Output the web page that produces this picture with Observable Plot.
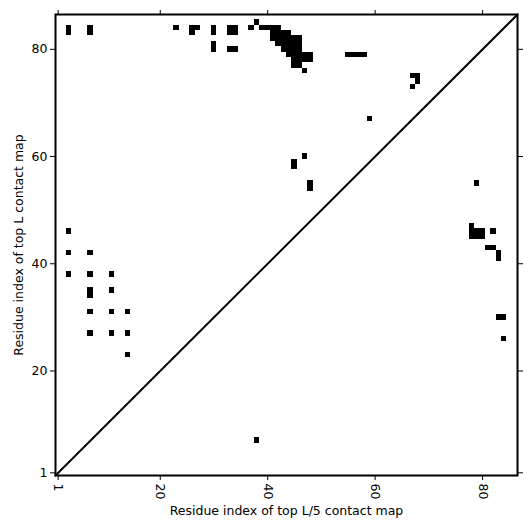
<!DOCTYPE html>
<html>
<head>
<meta charset="utf-8">
<script src="https://cdn.jsdelivr.net/npm/d3@7"></script>
<script src="https://cdn.jsdelivr.net/npm/@observablehq/plot@0.6"></script>
<style>
  html, body { margin: 0; padding: 0; background: white; }
</style>
</head>
<body>
<div id="chart"></div>
<script>
const L = 86;
const tickValues = [1, 20, 40, 60, 80];

// Upper-left triangle: top L contacts (residue i, residue j)
const topL_i = [3,3,7,7,23,26,27,26,30,30,30,30,33,34,33,34,33,34,37,38,
  39,40,41,42, 41,42,43,44, 41,42,43,44,45,46, 42,43,44,45,46, 43,44,45,46,
  44,45,46,47,48, 45,46,47,48, 45,46, 47,
  55,56,57,58, 67,68,68,67, 59, 47,45,45,48,48,
  3,3,7,3,7,11,7,7,11,7,11,14,7,11,14,14];
const topL_j = [83,84,83,84,84,84,84,83,84,83,81,80,83,83,84,84,80,80,84,85,
  84,84,84,84, 83,83,83,83, 82,82,82,82,82,82, 81,81,81,81,81, 80,80,80,80,
  79,79,79,79,79, 78,78,78,78, 77,77, 76,
  79,79,79,79, 75,75,74,73, 67, 60,59,58,55,54,
  46,42,42,38,38,38,35,34,35,31,31,31,27,27,27,23];

// Lower-right triangle: top L/5 contacts
const topL5_i = [79,78,78,79,80,78,79,80,82,81,82,83,83,83,84,84,38];
const topL5_j = [55,47,46,46,46,45,45,45,46,43,43,42,41,30,30,26,7];

const cells = [
  ...topL_i.map((v, k) => ({i: v, j: topL_j[k]})),
  ...topL5_i.map((v, k) => ({i: v, j: topL5_j[k]}))
];
const diag = [0.5, L + 0.5];

const chart = Plot.plot({
  width: 531,
  height: 531,
  marginLeft: 55,
  marginRight: 14,
  marginTop: 14,
  marginBottom: 56,
  style: {fontFamily: "DejaVu Sans", fontSize: "12.5px", color: "black", background: "white"},
  x: {domain: [0.5, L + 0.5]},
  y: {domain: [0.5, L + 0.5]},
  marks: [
    Plot.rect(cells, {x1: d => d.i - 0.5, x2: d => d.i + 0.5, y1: d => d.j - 0.5, y2: d => d.j + 0.5, fill: "black", shapeRendering: "crispEdges"}),
    Plot.line(diag, {x: d => d, y: d => d, stroke: "black", strokeWidth: 2}),
    Plot.frame({stroke: "black", strokeWidth: 2}),
    Plot.axisX({ticks: tickValues, tickSize: 5, tickPadding: 3, tickRotate: 90, fontSize: 12.5,
      label: "Residue index of top L/5 contact map", labelArrow: false, labelAnchor: "center", labelOffset: 39}),
    Plot.axisY({ticks: tickValues, tickSize: 5, tickPadding: 3, fontSize: 12.5,
      label: "Residue index of top L contact map", labelArrow: false, labelAnchor: "center", labelOffset: 41}),
    Plot.axisX({anchor: "top", ticks: tickValues, tickSize: 5, tickFormat: () => "", label: null}),
    Plot.axisY({anchor: "right", ticks: tickValues, tickSize: 5, tickFormat: () => "", label: null})
  ]
});
document.getElementById("chart").appendChild(chart);
</script>
</body>
</html>
